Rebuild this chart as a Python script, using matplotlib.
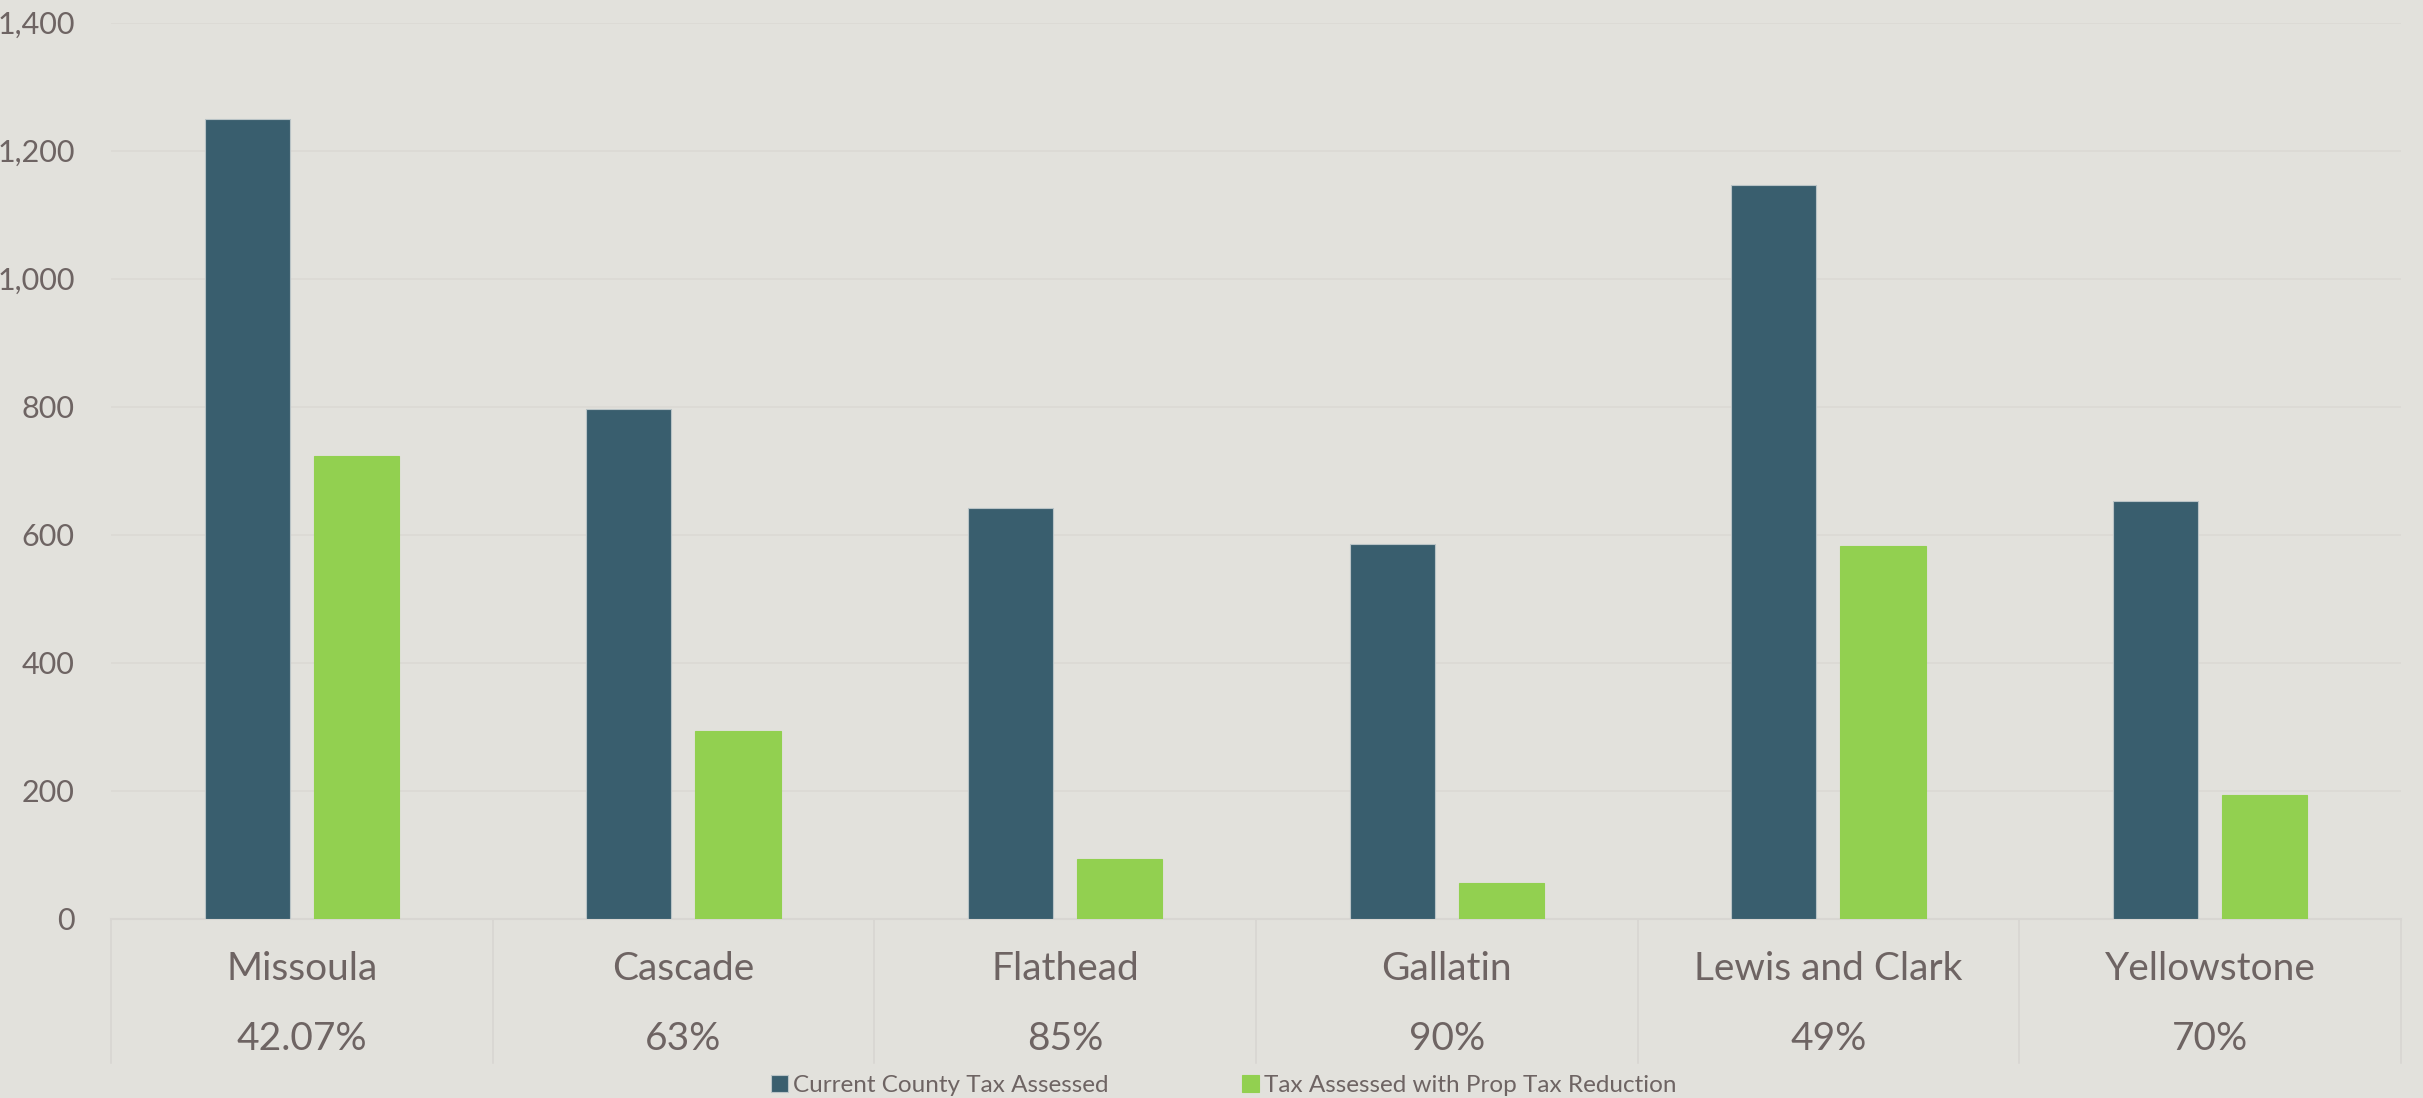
import matplotlib
matplotlib.use('Agg')
import matplotlib.pyplot as plt
from matplotlib.ticker import FuncFormatter

plt.rcParams['font.family'] = ['Lato', 'DejaVu Sans']

counties = ['Missoula', 'Cascade', 'Flathead', 'Gallatin', 'Lewis and Clark', 'Yellowstone']
pct_labels = ['42.07%', '63%', '85%', '90%', '49%', '70%']
current_tax = [1250, 796, 641, 586, 1147, 652]
reduced_tax = [723, 293, 94, 56, 583, 194]

bg = '#e2e1dc'
txt = '#6e6463'
dark = '#395e6e'
green = '#92d050'
line = '#d8d6d2'

fig = plt.figure(figsize=(24.23, 10.98), dpi=100, facecolor=bg)
ax = fig.add_axes([0.0458, 0.1633, 0.9451, 0.816])
ax.set_facecolor(bg)

x = list(range(len(counties)))
off = 0.143
w = 0.223
ax.bar([i - off for i in x], current_tax, width=w, color=dark, edgecolor='#b9c3c6', linewidth=0.8,
       label='Current County Tax Assessed', zorder=3)
ax.bar([i + off for i in x], reduced_tax, width=w, color=green, edgecolor=green, linewidth=0.8,
       label='Tax Assessed with Prop Tax Reduction', zorder=3)

ax.set_xlim(-0.5, len(counties) - 0.5)
ax.set_ylim(0, 1400)
ax.set_yticks(range(0, 1401, 200))
ax.yaxis.set_major_formatter(FuncFormatter(lambda v, p: f'{int(v):,}'))
ax.tick_params(axis='y', length=0, labelsize=22, labelcolor=txt, pad=26)
ax.set_xticks([])
ax.grid(axis='y', color='#dbd9d4', linewidth=1.2, zorder=0)
for s in ['top', 'right', 'left']:
    ax.spines[s].set_visible(False)
ax.spines['bottom'].set_color(line)
ax.spines['bottom'].set_linewidth(1.5)

tr = ax.get_xaxis_transform()
for i, (name, pct) in enumerate(zip(counties, pct_labels)):
    ax.text(i, -0.056, name, transform=tr, ha='center', va='center', fontsize=28, color=txt)
    ax.text(i, -0.134, pct, transform=tr, ha='center', va='center', fontsize=28, color=txt)
for b in range(len(counties) + 1):
    ax.plot([b - 0.5, b - 0.5], [0, -0.161], transform=tr, color=line, linewidth=1.2, clip_on=False)

leg = ax.legend(loc='center', bbox_to_anchor=(0.505, 0.011), bbox_transform=fig.transFigure, ncol=2,
                frameon=False, fontsize=17.5, handlelength=0.7, handleheight=0.7, handletextpad=0.2,
                columnspacing=5.5)
for t in leg.get_texts():
    t.set_color(txt)

fig.savefig('out.png', dpi=100, facecolor=bg)
